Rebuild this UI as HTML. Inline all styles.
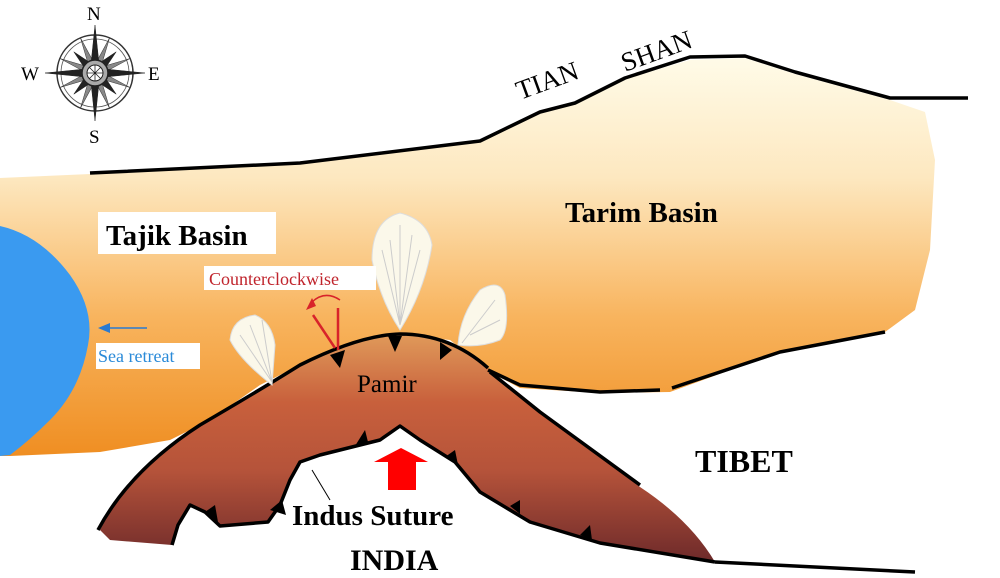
<!DOCTYPE html>
<html><head><meta charset="utf-8"><style>
html,body{margin:0;padding:0;background:#fff}
svg{display:block}
text{font-family:"Liberation Serif",serif}
</style></head><body>
<svg width="1000" height="578" viewBox="0 0 1000 578" xmlns="http://www.w3.org/2000/svg">
<defs>
<linearGradient id="bas" x1="0" y1="0" x2="0" y2="1">
<stop offset="0" stop-color="#fffbe8"/>
<stop offset="0.3" stop-color="#fde8c0"/>
<stop offset="0.65" stop-color="#f8b45e"/>
<stop offset="1" stop-color="#ef8e22"/>
</linearGradient>
<linearGradient id="pam" x1="0" y1="0" x2="0" y2="1">
<stop offset="0" stop-color="#e09a5a"/>
<stop offset="0.3" stop-color="#c8603c"/>
<stop offset="0.6" stop-color="#b5533a"/>
<stop offset="1" stop-color="#6e2a2a"/>
</linearGradient>
</defs>
<!-- basin -->
<path d="M0,178 L90,174 L300,162 L480,142 L540,112 L575,104 L625,79 L690,60 L745,58 L795,74 L890,100 L925,112 L935,160 L930,250 L915,310 L885,332 L780,352 L670,392 L600,393 L520,388 L490,372 L450,340 L400,335 L340,350 L300,365 L260,385 L210,420 L170,440 L100,452 L10,456 L0,456 Z" fill="url(#bas)"/>
<!-- sea -->
<path d="M0,226 Q40,235 70,275 Q95,310 88,345 Q80,390 50,420 Q30,440 10,455 L0,456 Z" fill="#3a9af0"/>
<!-- Pamir -->
<path d="M100,530 Q130,470 200,425 Q260,390 300,365 Q360,335 400,334 Q450,334 490,370 L540,410 L640,487 Q690,520 715,562 L600,543 L530,522 L480,492 L455,462 L420,440 L400,426 L380,440 L320,455 L300,462 L290,480 L280,505 L268,522 L220,526 L205,512 L190,505 L178,525 L172,545 L110,540 Z" fill="url(#pam)"/>
<!-- Lines -->
<g fill="none" stroke="#000" stroke-width="3.5" stroke-linejoin="round">
<path d="M90,173 L300,163 L480,141 L540,112 L575,103 L625,78 L690,57 L745,56 L795,72 L890,98 L968,98"/>
<path d="M98,530 Q130,470 200,425 Q260,390 300,365 Q360,335 400,334 Q450,334 488,368"/>
<path d="M490,372 L540,412 L640,485"/>
<path d="M488,370 L520,385 L600,392 L660,390"/>
<path d="M672,388 L780,352 L885,332"/>
<path d="M715,562 L915,572"/>
<path d="M172,545 L178,525 L190,505 L205,512 L220,526 L268,522 L280,505 L290,480 L300,462 L320,455 L380,440 L400,426 L420,440 L455,462 L480,492 L530,522 L600,543 L715,562"/>
</g>
<!-- teeth -->
<g fill="#000">
<polygon points="330,355 345,350 340,368"/>
<polygon points="388,336 402,336 395,352"/>
<polygon points="440,342 452,350 440,360"/>
<polygon points="355,446 368,442 365,430"/>
<polygon points="445,457 458,465 455,450"/>
<polygon points="270,510 282,500 286,515"/>
<polygon points="205,512 215,505 218,522"/>
<polygon points="510,506 520,514 520,500"/>
<polygon points="580,535 592,540 590,525"/>
</g>
<line x1="312" y1="470" x2="330" y2="500" stroke="#000" stroke-width="1"/>
<!-- fans -->
<g fill="#fbf8ea" stroke="#ddd" stroke-width="1">
<path d="M272,385 Q240,360 230,340 Q232,318 255,315 Q272,322 275,345 Z"/>
<path d="M400,330 Q380,300 372,260 Q372,220 400,213 Q428,220 432,245 Q425,290 400,330 Z"/>
<path d="M458,345 Q460,315 480,290 Q500,278 505,295 Q510,330 500,340 Q480,348 458,345 Z"/>
</g>
<g stroke="#ccc" stroke-width="1" fill="none">
<path d="M400,325 L390,240 M400,325 L400,225 M400,325 L412,235 M400,325 L382,250 M400,325 L420,250"/>
<path d="M272,382 L250,325 M272,382 L262,320 M272,382 L240,335"/>
<path d="M462,343 L495,300 M470,335 L500,320"/>
</g>
<!-- red counterclockwise -->
<g stroke="#d8232a" stroke-width="2.5" fill="none">
<line x1="338" y1="350" x2="338" y2="308"/>
<line x1="335" y1="348" x2="313" y2="315"/>
<path d="M340,300 Q325,290 312,302" stroke-width="1.5"/>
</g>
<polygon points="306,310 312,298 316,306" fill="#d8232a"/>
<!-- blue arrow -->
<line x1="100" y1="328" x2="147" y2="328" stroke="#2a7ad0" stroke-width="1.5"/>
<polygon points="98,328 110,323 110,333" fill="#2a7ad0"/>
<!-- red block arrow -->
<polygon points="385,462 396,462 396,490 406,490 406,462 418,462 401,450" fill="#f00" transform="rotate(0)"/>
<polygon points="374,462 401,448 428,462 416,462 416,490 388,490 388,462" fill="#f00"/>
<!-- labels -->
<rect x="98" y="212" width="178" height="42" fill="#fff"/>
<text x="106" y="245" font-size="29" font-weight="bold">Tajik Basin</text>
<text x="565" y="222" font-size="29" font-weight="bold">Tarim Basin</text>
<rect x="204" y="266" width="172" height="24" fill="#fff"/>
<text x="209" y="285" font-size="18" fill="#c0242c">Counterclockwise</text>
<rect x="96" y="343" width="104" height="26" fill="#fff"/>
<text x="98" y="362" font-size="18" fill="#2a8ad8">Sea retreat</text>
<text x="357" y="392" font-size="25">Pamir</text>
<text x="695" y="472" font-size="32" font-weight="bold">TIBET</text>
<text x="292" y="525" font-size="29" font-weight="bold">Indus Suture</text>
<text x="350" y="570" font-size="30" font-weight="bold">INDIA</text>
<text x="520" y="100" font-size="27" transform="rotate(-20 520 100)">TIAN</text>
<text x="625" y="72" font-size="27" transform="rotate(-20 625 72)">SHAN</text>
<!-- compass -->
<g transform="translate(95,73)">
<circle r="38" fill="none" stroke="#333" stroke-width="1.5"/>
<circle r="34" fill="none" stroke="#555" stroke-width="0.8"/>
<g fill="#888" stroke="#333" stroke-width="0.5">
<polygon points="0,-38 4,0 -4,0" transform="rotate(22.5)"/>
<polygon points="0,-38 4,0 -4,0" transform="rotate(67.5)"/>
<polygon points="0,-38 4,0 -4,0" transform="rotate(112.5)"/>
<polygon points="0,-38 4,0 -4,0" transform="rotate(157.5)"/>
<polygon points="0,-38 4,0 -4,0" transform="rotate(202.5)"/>
<polygon points="0,-38 4,0 -4,0" transform="rotate(247.5)"/>
<polygon points="0,-38 4,0 -4,0" transform="rotate(292.5)"/>
<polygon points="0,-38 4,0 -4,0" transform="rotate(337.5)"/>
</g>
<g fill="#222" stroke="#222" stroke-width="0.5">
<polygon points="0,-30 6,0 -6,0" transform="rotate(45)"/>
<polygon points="0,-30 6,0 -6,0" transform="rotate(135)"/>
<polygon points="0,-30 6,0 -6,0" transform="rotate(225)"/>
<polygon points="0,-30 6,0 -6,0" transform="rotate(315)"/>
<polygon points="0,-48 5,0 -5,0"/>
<polygon points="0,48 5,0 -5,0"/>
<polygon points="-50,0 0,5 0,-5"/>
<polygon points="50,0 0,5 0,-5"/>
</g>
<circle r="13" fill="#aaa" stroke="#222" stroke-width="1.5"/>
<circle r="8" fill="#fff" stroke="#222" stroke-width="1"/>
<path d="M-8,0H8M0,-8V8M-5.5,-5.5L5.5,5.5M-5.5,5.5L5.5,-5.5" stroke="#222" stroke-width="0.8"/>
</g>
<text x="87" y="20" font-size="19">N</text>
<text x="21" y="80" font-size="19">W</text>
<text x="148" y="80" font-size="19">E</text>
<text x="89" y="143" font-size="19">S</text>
</svg>
</body></html>
